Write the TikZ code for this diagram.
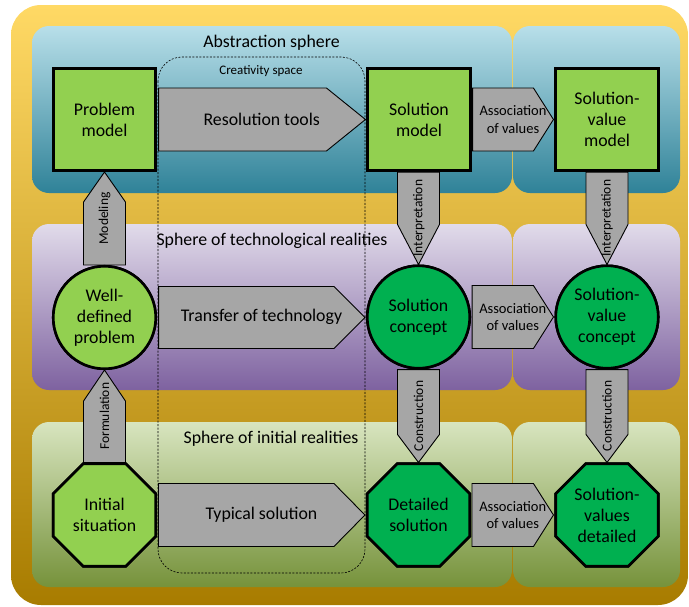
\documentclass[tikz,border=0pt]{standalone}
\usepackage{fontspec}
\setmainfont{Carlito}
\usetikzlibrary{shapes.geometric,calc}
\definecolor{lgreen}{HTML}{92D050}
\definecolor{dgreen}{HTML}{00B050}
\definecolor{agray}{HTML}{A6A6A6}
\definecolor{yeltop}{HTML}{FFD965}
\definecolor{yelmid}{HTML}{FDC000}
\definecolor{yelbot}{HTML}{A87C00}
\definecolor{blutop}{HTML}{B8DFE9}
\definecolor{blumid}{HTML}{96CFDE}
\definecolor{blubot}{HTML}{2F8298}
\definecolor{purtop}{HTML}{E1DBEA}
\definecolor{purmid}{HTML}{CBC0DA}
\definecolor{purbot}{HTML}{7E62A0}
\definecolor{grntop}{HTML}{D8E5BF}
\definecolor{grnmid}{HTML}{C4D79E}
\definecolor{grnbot}{HTML}{76923B}
\begin{document}
\begin{tikzpicture}[x=1pt,y=-1pt,
  sq/.style={rectangle, draw=black, line width=2.6pt, minimum width=102.5pt, minimum height=102.5pt, inner sep=0pt},
  circ/.style={circle, draw=black, line width=2.6pt, minimum size=102.5pt, inner sep=0pt},
  oct/.style={regular polygon, regular polygon sides=8, draw=black, line width=2.6pt, minimum size=110.9pt, inner sep=0pt},
  blk/.style={draw=black, fill=agray, line width=0.9pt, line join=miter},
  lbl/.style={font=\fontsize{17.8}{21}\selectfont, align=center, inner sep=0pt},
  smalllbl/.style={font=\fontsize{14.5}{17.7}\selectfont, align=center, inner sep=0pt},
  vlab/.style={font=\fontsize{13.5}{15}\selectfont, rotate=90, inner sep=0pt},
  panel/.style={rounded corners=17pt}
]
\useasboundingbox (0,0) rectangle (689,606);
% outer yellow frame
\shade[rounded corners=30pt, top color=yeltop, middle color=yelmid, bottom color=yelbot] (11,5) rectangle (688,605);
% spheres
\shade[panel, top color=blutop, middle color=blumid, bottom color=blubot] (32,26) rectangle (512,193);
\shade[panel, top color=blutop, middle color=blumid, bottom color=blubot] (513,26) rectangle (680,193);
\shade[panel, top color=purtop, middle color=purmid, bottom color=purbot] (32,224) rectangle (512,390);
\shade[panel, top color=purtop, middle color=purmid, bottom color=purbot] (513,224) rectangle (680,390);
\shade[panel, top color=grntop, middle color=grnmid, bottom color=grnbot] (32,422) rectangle (512,587);
\shade[panel, top color=grntop, middle color=grnmid, bottom color=grnbot] (513,422) rectangle (680,587);
% sphere labels
\node[lbl] (abs) at (271.5,43) {Abstraction sphere};
\node[lbl] (tech) at (272,241) {Sphere of technological realities};
\node[lbl] (init) at (271,439) {Sphere of initial realities};
% creativity space
\draw[line width=0.6pt, dash pattern=on 2pt off 1.5pt, rounded corners=24pt] (158,57) rectangle (365,573);
\node[font=\fontsize{13}{15}\selectfont, inner sep=0pt] (cre) at (261,71) {Creativity space};
% main shapes
\node[sq, fill=lgreen] (pm) at (104.5,119.5) {};
\node[sq, fill=lgreen] (sm) at (419,119.5) {};
\node[sq, fill=lgreen] (svm) at (607,119.5) {};
\node[circ, fill=lgreen] (wdp) at (104.5,317.5) {};
\node[circ, fill=dgreen] (sc) at (418.5,317) {};
\node[circ, fill=dgreen] (svc) at (607,317) {};
\node[oct, fill=lgreen] (is) at (104.5,515) {};
\node[oct, fill=dgreen] (ds) at (418.5,515) {};
\node[oct, fill=dgreen] (svd) at (607,515) {};
% horizontal block arrows
\draw[blk] let \p1=(pm.east), \p2=(sm.west) in
  (\x1+1.5pt,\y1+31.5pt) -- (\x2-40pt,\y1+31.5pt) -- (\x2-1pt,\y1) -- (\x2-40pt,\y1-31.5pt) -- (\x1+1.5pt,\y1-31.5pt) -- cycle;
\draw[blk] let \p1=(wdp.east), \p2=(sc.west) in
  (\x1+1.5pt,\y1+31pt) -- (\x2-32pt,\y1+31pt) -- (\x2-1pt,\y1) -- (\x2-32pt,\y1-31pt) -- (\x1+1.5pt,\y1-31pt) -- cycle;
\draw[blk] let \p1=(is.east), \p2=(ds.west) in
  (\x1+1.5pt,\y1+31.5pt) -- (\x2-32pt,\y1+31.5pt) -- (\x2-1pt,\y1) -- (\x2-32pt,\y1-31.5pt) -- (\x1+1.5pt,\y1-31.5pt) -- cycle;
\foreach \a/\b in {sm/svm, sc/svc, ds/svd}{
  \draw[blk] let \p1=(\a.east), \p2=(\b.west) in
    (\x1+1pt,\y1+31.5pt) -- (\x2-21pt,\y1+31.5pt) -- (\x2-1pt,\y1) -- (\x2-21pt,\y1-31.5pt) -- (\x1+1pt,\y1-31.5pt) -- cycle;
}
% vertical block arrows (upward)
\draw[blk] let \p1=(wdp.north), \p2=(pm.south) in
  (\x1-21pt,\y1) -- (\x1-21pt,\y2-30pt) -- (\x2,\y2) -- (\x1+21pt,\y2-30pt) -- (\x1+21pt,\y1) -- cycle;
\draw[blk] let \p1=(is.north), \p2=(wdp.south) in
  (\x1-21pt,\y1) -- (\x1-21pt,\y2-31pt) -- (\x2,\y2) -- (\x1+21pt,\y2-31pt) -- (\x1+21pt,\y1) -- cycle;
% vertical block arrows (downward)
\foreach \a/\b in {sm/sc, svm/svc}{
  \draw[blk] let \p1=(\a.south), \p2=(\b.north) in
    (\x2-21pt,\y1) -- (\x2-21pt,\y2+40pt) -- (\x2,\y2) -- (\x2+21pt,\y2+40pt) -- (\x2+21pt,\y1) -- cycle;
}
\foreach \a/\b in {sc/ds, svc/svd}{
  \draw[blk] let \p1=(\a.south), \p2=(\b.north) in
    (\x2-21pt,\y1) -- (\x2-21pt,\y2+28pt) -- (\x2,\y2) -- (\x2+21pt,\y2+28pt) -- (\x2+21pt,\y1) -- cycle;
}
% redraw shapes on top of arrow ends
\node[sq, fill=lgreen] at (pm) {};
\node[sq, fill=lgreen] at (sm) {};
\node[sq, fill=lgreen] at (svm) {};
\node[circ, fill=lgreen] at (wdp) {};
\node[circ, fill=dgreen] at (sc) {};
\node[circ, fill=dgreen] at (svc) {};
\node[oct, fill=lgreen] at (is) {};
\node[oct, fill=dgreen] at (ds) {};
\node[oct, fill=dgreen] at (svd) {};
% shape texts
\node[lbl] at (pm) {Problem\\model};
\node[lbl] at (sm) {Solution\\model};
\node[lbl] at (svm) {Solution-\\value\\model};
\node[lbl] at (wdp) {Well-\\defined\\problem};
\node[lbl] at (sc) {Solution\\concept};
\node[lbl] at (svc) {Solution-\\value\\concept};
\node[lbl] at (is) {Initial\\situation};
\node[lbl] at (ds) {Detailed\\solution};
\node[lbl] at (svd) {Solution-\\values\\detailed};
% arrow texts
\node[lbl] at ($(pm.east)!0.5!(sm.west)$) {Resolution tools};
\node[lbl] at ($(wdp.east)!0.5!(sc.west)$) {Transfer of technology};
\node[lbl] at ($(is.east)!0.5!(ds.west)$) {Typical solution};
\node[smalllbl] at ($(sm.east)!0.5!(svm.west)$) {Association\\of values};
\node[smalllbl] at ($(sc.east)!0.5!(svc.west)$) {Association\\of values};
\node[smalllbl] at ($(ds.east)!0.5!(svd.west)$) {Association\\of values};
\node[vlab] at ($(pm.south)!0.5!(wdp.north)$) {Modeling};
\node[vlab] at ($(wdp.south)!0.5!(is.north)$) {Formulation};
\node[vlab] at ($(sm.south)!0.5!(sc.north)$) {Interpretation};
\node[vlab] at ($(svm.south)!0.5!(svc.north)$) {Interpretation};
\node[vlab] at ($(sc.south)!0.5!(ds.north)$) {Construction};
\node[vlab] at ($(svc.south)!0.5!(svd.north)$) {Construction};
\end{tikzpicture}
\end{document}
